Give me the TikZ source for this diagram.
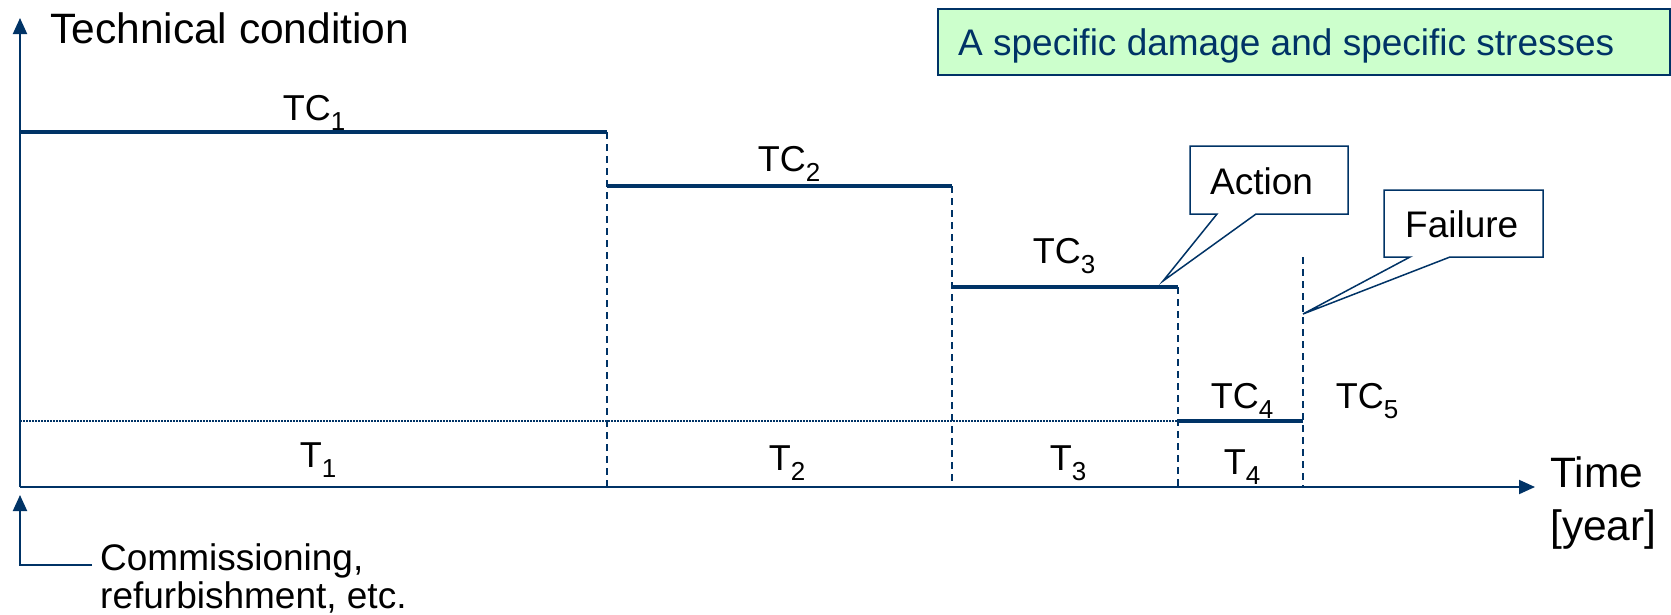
\documentclass[tikz,border=0pt]{standalone}
\usepackage{fontspec}
\setmainfont{Liberation Sans}
\usetikzlibrary{arrows.meta}
\definecolor{navy}{HTML}{003366}
\definecolor{mint}{HTML}{CCFFCC}
% label with a lowered, smaller index
\newcommand\tsub[2]{#1\raisebox{-10pt}{\fontsize{26}{26}\selectfont #2}}

\begin{document}
\begin{tikzpicture}[x=1pt,y=-1pt,
  axis/.style={navy, line width=2pt},
  level/.style={navy, line width=3.5pt},
  bound/.style={navy, line width=2pt, dash pattern=on 7pt off 5pt},
  thinline/.style={navy, line width=1.2pt, dash pattern=on 1.5pt off 1.5pt},
  tip/.style={-{Triangle[length=16pt,width=14pt]}},
  big/.style={inner sep=0pt, anchor=base west, font=\fontsize{42.5}{50}\selectfont},
  mid/.style={inner sep=0pt, anchor=base west, font=\fontsize{37}{42}\selectfont},
  lbl/.style={inner sep=0pt, anchor=base, font=\fontsize{36}{40}\selectfont},
  bubble/.style={navy, fill=white, line width=1.5pt, line join=miter},
]
\useasboundingbox (0,0) rectangle (1671,614);
\fill[white] (0,0) rectangle (1671,614);

% axes
\coordinate (O) at (20,487);
\coordinate (ytop) at (20,18);
\coordinate (xend) at (1535,487);
\draw[axis, tip] (O) -- (ytop);
\draw[axis, tip] (O) -- (xend);

% condition levels and period boundaries
\coordinate (a0) at (20,132);
\coordinate (a1) at (607,132);
\coordinate (b1) at (607,186);
\coordinate (b2) at (952,186);
\coordinate (c2) at (952,287);
\coordinate (c3) at (1178,287);
\coordinate (d3) at (1178,421);
\coordinate (d4) at (1303,421);
\coordinate (e4) at (1303,257);
\coordinate (dl) at (20,421);

\draw[thinline] (dl) -- (d3);
\draw[level] (a0) -- (a1);
\draw[level] (b1) -- (b2);
\draw[level] (c2) -- (c3);
\draw[level] (d3) -- (d4);
\draw[bound] (a1) -- (a1 |- O);
\draw[bound] (b2) -- (b2 |- O);
\draw[bound] (c3) -- (c3 |- O);
\draw[bound] (e4) -- (e4 |- O);

% condition and period labels
\node[lbl] (tc1) at (314,120) {\tsub{TC}{1}};
\node[lbl] (tc2) at (789,171) {\tsub{TC}{2}};
\node[lbl] (tc3) at (1064,263) {\tsub{TC}{3}};
\node[lbl] (tc4) at (1242,408) {\tsub{TC}{4}};
\node[lbl] (tc5) at (1367,408) {\tsub{TC}{5}};
\node[lbl] (t1) at (318,467) {\tsub{T}{1}};
\node[lbl] (t2) at (787,470) {\tsub{T}{2}};
\node[lbl] (t3) at (1068,470) {\tsub{T}{3}};
\node[lbl] (t4) at (1242,474) {\tsub{T}{4}};

% axis titles
\node[big] (ylab) at (50,43) {Technical condition};
\node[big] (xlab1) at (1550,487) {Time};
\node[big] (xlab2) at (1550,540) {[year]};

% start marker
\coordinate (cs) at (92,565);
\coordinate (cc) at (20,565);
\coordinate (ct) at (20,495);
\draw[axis, tip] (cs) -- (cc) -- (ct);
\node[mid] (com1) at (100,570) {Commissioning,};
\node[mid] (com2) at (100,608) {refurbishment, etc.};

% note box
\node[draw=navy, fill=mint, line width=1.5pt, inner sep=0pt, anchor=north west,
      minimum width=732pt, minimum height=66pt] (note) at (937,8) {};
\node[mid, text=navy] (notetext) at (958,55) {A specific damage and specific stresses};

% callouts
\coordinate (acttip) at (1163,281);
\draw[bubble] (1190,146) -- (1348,146) -- (1348,214) -- (1256,214) -- (acttip)
  -- (1217,214) -- (1190,214) -- cycle;
\node[mid] (act) at (1210,194) {Action};

\coordinate (failtip) at (1303,314);
\draw[bubble] (1384,190) -- (1543,190) -- (1543,257) -- (1450,257) -- (failtip)
  -- (1410,257) -- (1384,257) -- cycle;
\node[mid] (fail) at (1405,237) {Failure};
\end{tikzpicture}
\end{document}
